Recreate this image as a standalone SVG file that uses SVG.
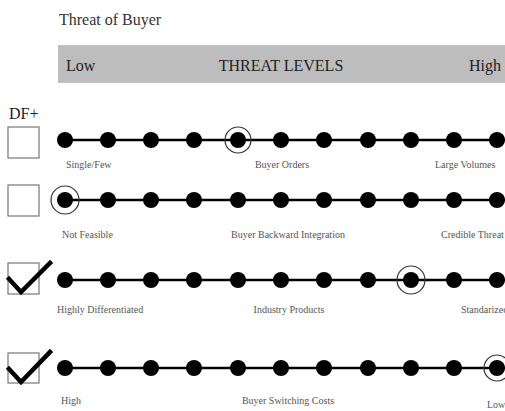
<svg xmlns="http://www.w3.org/2000/svg" width="505" height="411" viewBox="0 0 505 411">
<style>
.t{font-family:"Liberation Serif","Times New Roman",serif;fill:#222}
.lbl{font-family:"Liberation Serif","Times New Roman",serif;font-size:10px;fill:#555}
.box{fill:#fff;stroke:#777;stroke-width:1.2}
.chk{fill:none;stroke:#000;stroke-width:4.5;stroke-linecap:square;stroke-linejoin:miter}
.ln{stroke:#000;stroke-width:2.5}
.ring{fill:none;stroke:#333;stroke-width:1.2}
</style>
<defs>
<g id="dots">
<line class="ln" x1="65" y1="0" x2="505" y2="0"/>
<circle cx="65" cy="0" r="8"/><circle cx="108" cy="0" r="8"/><circle cx="151" cy="0" r="8"/><circle cx="194" cy="0" r="8"/><circle cx="238" cy="0" r="8"/><circle cx="281" cy="0" r="8"/><circle cx="324" cy="0" r="8"/><circle cx="368" cy="0" r="8"/><circle cx="411" cy="0" r="8"/><circle cx="454" cy="0" r="8"/><circle cx="497" cy="0" r="8"/>
</g>
</defs>
<g id="header">
<text class="t" x="59" y="25" font-size="16" style="fill:#333">Threat of Buyer</text>
<rect x="58" y="45" width="447" height="38" fill="#bdbdbd"/>
<text class="t" x="66" y="71" font-size="16">Low</text>
<text class="t" x="281" y="71" font-size="16" text-anchor="middle">THREAT LEVELS</text>
<text class="t" x="469" y="71" font-size="16">High</text>
<text class="t" x="9" y="119" font-size="16">DF+</text>
</g>
<g id="row1">
<rect class="box" x="8" y="127" width="31" height="31"/>
<use href="#dots" y="140"/>
<circle class="ring" cx="238" cy="140" r="13"/>
<text class="lbl" x="66" y="168">Single/Few</text>
<text class="lbl" x="282" y="168" text-anchor="middle">Buyer Orders</text>
<text class="lbl" x="435" y="168">Large Volumes</text>
</g>
<g id="row2">
<rect class="box" x="8" y="185" width="31" height="31"/>
<use href="#dots" y="200"/>
<circle class="ring" cx="65" cy="200" r="14"/>
<text class="lbl" x="62" y="238">Not Feasible</text>
<text class="lbl" x="288" y="238" text-anchor="middle">Buyer Backward Integration</text>
<text class="lbl" x="441" y="238">Credible Threat</text>
</g>
<g id="row3">
<rect class="box" x="8" y="263" width="31" height="31"/>
<polyline class="chk" points="9,279 21,292 50,263"/>
<use href="#dots" y="280"/>
<circle class="ring" cx="411" cy="280" r="14"/>
<text class="lbl" x="57" y="313">Highly Differentiated</text>
<text class="lbl" x="289" y="313" text-anchor="middle">Industry Products</text>
<text class="lbl" x="461" y="313">Standarized</text>
</g>
<g id="row4">
<rect class="box" x="8" y="353" width="31" height="30"/>
<polyline class="chk" points="9,369 21,382 50,352"/>
<use href="#dots" y="368"/>
<circle class="ring" cx="497" cy="368" r="13"/>
<text class="lbl" x="61" y="404">High</text>
<text class="lbl" x="288" y="404" text-anchor="middle">Buyer Switching Costs</text>
<text class="lbl" x="487" y="408">Low</text>
</g>
</svg>
